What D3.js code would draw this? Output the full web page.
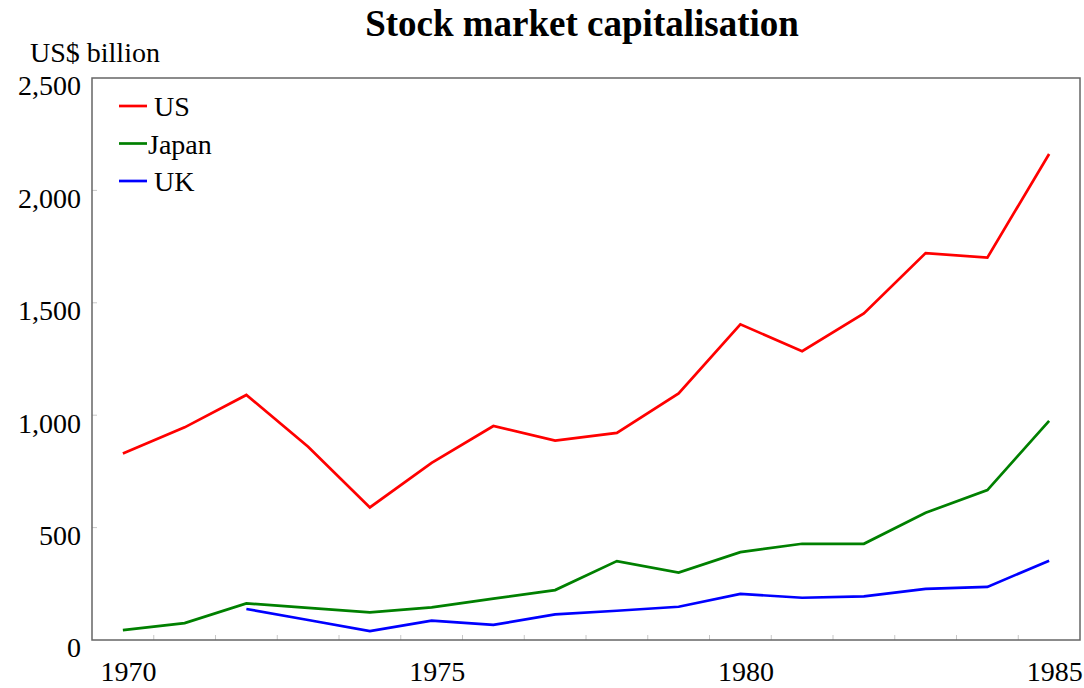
<!DOCTYPE html>
<html>
<head>
<meta charset="utf-8">
<script src="https://cdn.jsdelivr.net/npm/d3@7"></script>
<style>
  body { margin: 0; background: #fff; }
  text { font-family: "Liberation Serif", "Times New Roman", serif; fill: #000; }
</style>
</head>
<body>
<div id="chart"></div>
<script>
//All the variables
var years = [1970, 1971, 1972, 1973, 1974, 1975, 1976, 1977, 1978, 1979, 1980, 1981, 1982, 1983, 1984, 1985];
var usValues = [830, 946, 1090, 860, 590, 788, 952, 887, 921, 1097, 1404, 1285, 1453, 1721, 1701, 2162];
var japanValues = [44, 75, 163, 143, 123, 145, 184, 222, 351, 300, 391, 428, 428, 566, 667, 975];
var ukValues = [null, null, 138, 89, 40, 86, 67, 114, 130, 148, 205, 188, 194, 227, 236, 353];
var seriesNames = ["US", "Japan", "UK"];
var seriesColors = ["#ff0000", "#008000", "#0000ff"];
var yTicks = [0, 500, 1000, 1500, 2000, 2500];
var xLabels = [1970, 1975, 1980, 1985];

var w = 1084, h = 688;
var margin = { top: 78, right: 4, bottom: 48, left: 92 };
var width = w - margin.left - margin.right;
var height = h - margin.top - margin.bottom;

var svg = d3.select("#chart")
  .append("svg")
    .attr("width", w)
    .attr("height", h);

var g = svg.append("g")
    .attr("transform", "translate(" + margin.left + "," + margin.top + ")");

// Scales
var x = d3.scaleLinear().domain([1969.5, 1985.5]).range([0, width]);
var y = d3.scaleLinear().domain([0, 2500]).range([height, 0]);

// Title
svg.append("text")
  .attr("x", 582)
  .attr("y", 36)
  .attr("text-anchor", "middle")
  .style("font-size", "37px")
  .style("font-weight", "bold")
  .text("Stock market capitalisation");

// Unit label
svg.append("text")
  .attr("x", 30)
  .attr("y", 62)
  .style("font-size", "28px")
  .text("US$ billion");

// minor ticks on the bottom, between years
var minor = d3.range(1970.5, 1985, 1);
g.selectAll(".xminor")
  .data(minor)
  .enter()
  .append("line")
  .attr("x1", function(d) { return x(d); })
  .attr("x2", function(d) { return x(d); })
  .attr("y1", height)
  .attr("y2", height - 5)
  .attr("stroke", "#c8c8c8")
  .attr("stroke-width", 1);

// Y ticks inside the frame
g.selectAll(".ytick")
  .data(yTicks.slice(1, -1))
  .enter()
  .append("line")
  .attr("x1", 0)
  .attr("x2", 5)
  .attr("y1", function(d) { return y(d); })
  .attr("y2", function(d) { return y(d); })
  .attr("stroke", "#c8c8c8")
  .attr("stroke-width", 1);

// Y axis labels
var yAxis = d3.axisLeft(y)
  .tickValues(yTicks)
  .tickSize(0)
  .tickPadding(11)
  .tickFormat(d3.format(","));

g.append("g")
  .attr("font-family", "Liberation Serif, serif")
  .call(yAxis)
  .call(function(a) { a.select(".domain").remove(); })
  .selectAll("text")
    .attr("dy", "0.6em")
    .style("font-size", "28px")
    .style("font-family", "Liberation Serif, serif");

// X axis labels
var xAxis = d3.axisBottom(x)
  .tickValues(xLabels)
  .tickSize(0)
  .tickPadding(21)
  .tickFormat(d3.format("d"));

g.append("g")
  .attr("transform", "translate(0," + height + ")")
  .call(xAxis)
  .call(function(a) { a.select(".domain").remove(); })
  .selectAll("text")
    .attr("dx", 5)
    .style("font-size", "28px")
    .style("font-family", "Liberation Serif, serif");

// Lines
var allSeries = [usValues, japanValues, ukValues];
var line = d3.line()
  .defined(function(d) { return d[1] != null; })
  .x(function(d) { return x(d[0]); })
  .y(function(d) { return y(d[1]); });

g.selectAll(".series")
  .data(allSeries)
  .enter()
  .append("path")
  .attr("fill", "none")
  .attr("stroke", function(d, i) { return seriesColors[i]; })
  .attr("stroke-width", 2.7)
  .attr("stroke-linejoin", "miter")
  .attr("d", function(vals) {
    return line(years.map(function(yr, i) { return [yr, vals[i]]; }));
  });

// Frame
g.append("rect")
  .attr("x", 0)
  .attr("y", 0)
  .attr("width", width)
  .attr("height", height)
  .attr("fill", "none")
  .attr("stroke", "#666")
  .attr("stroke-width", 1.5);

// Legend
var legend = g.selectAll(".legend")
  .data(seriesNames)
  .enter()
  .append("g")
  .attr("transform", function(d, i) { return "translate(27," + (28 + i * 37.5) + ")"; });

legend.append("line")
  .attr("x1", 0)
  .attr("x2", 28)
  .attr("stroke", function(d, i) { return seriesColors[i]; })
  .attr("stroke-width", 2.7);

legend.append("text")
  .attr("x", function(d) { return d == "Japan" ? 29 : 35; })
  .attr("y", 10)
  .style("font-size", "28px")
  .text(function(d) { return d; });
</script>
</body>
</html>
